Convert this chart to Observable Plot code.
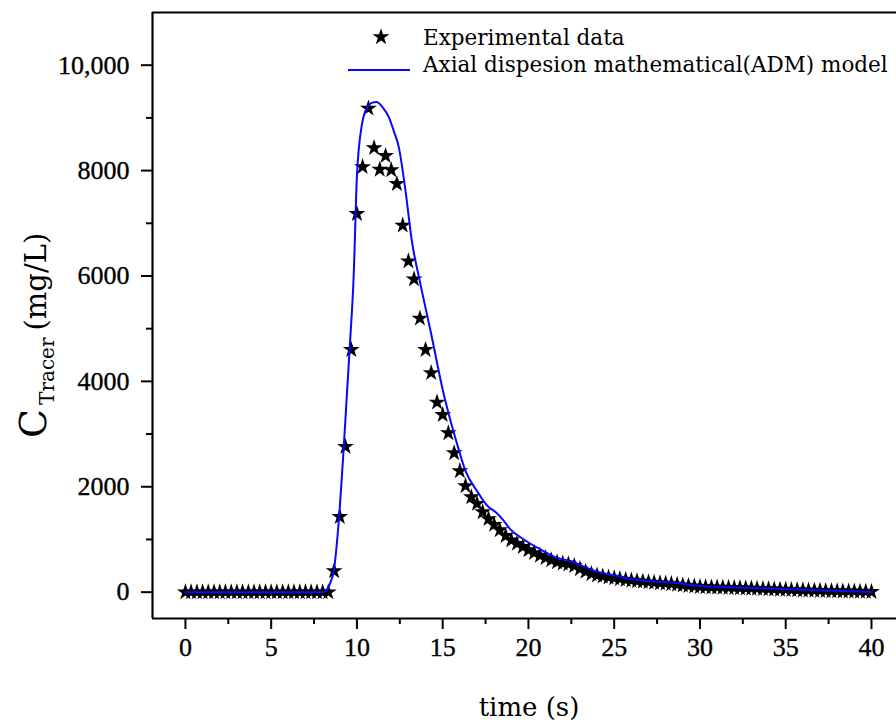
<!DOCTYPE html>
<html>
<head>
<meta charset="utf-8">
<script src="https://cdn.jsdelivr.net/npm/d3@7"></script>
<script src="https://cdn.jsdelivr.net/npm/@observablehq/plot@0.6"></script>
<style>
  html, body { margin: 0; padding: 0; background: #ffffff; overflow: hidden; }
</style>
</head>
<body>
<div id="chart"></div>
<script>
// ---- Experimental data (time in s, concentration in mg/L) ----
const expTime = [
  0, 0.33, 0.67, 1, 1.33, 1.67, 2, 2.33, 2.67, 3, 3.33, 3.67, 4, 4.33, 4.67, 5, 5.33, 5.67, 6, 6.33, 6.67,
  7, 7.33, 7.67, 8, 8.33, 8.67, 9, 9.33, 9.67, 10, 10.33, 10.67, 11, 11.33, 11.67, 12, 12.33, 12.67,
  13, 13.33, 13.67, 14, 14.33, 14.67, 15, 15.33, 15.67, 16, 16.33, 16.67, 17, 17.33, 17.67, 18, 18.33, 18.67,
  19, 19.33, 19.67, 20, 20.33, 20.67, 21, 21.33, 21.67, 22, 22.33, 22.67, 23, 23.33, 23.67, 24, 24.33, 24.67,
  25, 25.33, 25.67, 26, 26.33, 26.67, 27, 27.33, 27.67, 28, 28.33, 28.67, 29, 29.33, 29.67, 30, 30.33, 30.67,
  31, 31.33, 31.67, 32, 32.33, 32.67, 33, 33.33, 33.67, 34, 34.33, 34.67, 35, 35.33, 35.67, 36, 36.33, 36.67,
  37, 37.33, 37.67, 38, 38.33, 38.67, 39, 39.33, 39.67, 40
];
const expConc = [
  0, 0, 0, 0, 0, 0, 0, 0, 0, 0, 0, 0, 0, 0, 0, 0, 0, 0, 0, 0, 0, 0, 0, 0, 0, 0,
  400, 1430, 2760, 4600, 7180, 8070, 9180, 8430, 8020, 8280, 8010, 7750, 6960,
  6280, 5940, 5195, 4600, 4160, 3600, 3365, 3020, 2640, 2300, 2015, 1805, 1680, 1520, 1390,
  1280, 1180, 1070, 985, 920, 860, 800, 745, 695, 650, 610, 570, 545, 530, 500,
  440, 390, 345, 320, 300, 280, 265, 250, 235, 222, 210, 200, 190, 180, 172,
  165, 155, 145, 130, 118, 110, 102, 97, 93, 90, 87, 84, 80, 77, 73, 70, 66, 62, 58, 54, 50, 46,
  42, 39, 36, 33, 30, 27, 24, 21, 19, 17, 15, 13, 11, 9, 7
];

// ---- Axial dispersion model (ADM) curve ----
const modelTime = [
  0, 8.0, 8.26, 8.45, 8.65, 8.94, 9.23, 9.58, 9.81, 10.0, 10.3, 10.6, 10.9, 11.14, 11.5, 11.86,
  12.15, 12.44, 12.83, 13.2, 13.7, 14.29, 15.06, 15.5, 15.94, 16.33, 17.0, 17.6, 18.08, 18.47,
  18.95, 19.73, 20.7, 21.67, 22.45, 23.4, 24.2, 25.2, 26.1, 27, 28.5, 30, 32, 34.9, 37, 40
];
const modelConc = [
  0, 0, 50, 180, 400, 1350, 2745, 4645, 6000, 7900, 8890, 9200, 9290, 9300, 9200, 9015,
  8750, 8445, 7620, 6670, 5850, 4960, 3760, 3200, 2700, 2300, 1920, 1640, 1520, 1390,
  1190, 1000, 810, 650, 590, 460, 370, 305, 245, 210, 180, 115, 90, 60, 35, 0
];

// ---- Axes ----
const xTicks = [0, 5, 10, 15, 20, 25, 30, 35, 40];
const xTickLabels = ["0", "5", "10", "15", "20", "25", "30", "35", "40"];
const xMinorTicks = [2.5, 7.5, 12.5, 17.5, 22.5, 27.5, 32.5, 37.5];
const yTicks = [0, 2000, 4000, 6000, 8000, 10000];
const yTickLabels = ["0", "2000", "4000", "6000", "8000", "10,000"];
const yMinorTicks = [1000, 3000, 5000, 7000, 9000];
const xDomain = [-1.92, 41.46];
const yDomain = [-500, 11000];

const xLabel = "time (s)";
const yLabelMain = "C";
const yLabelSub = "Tracer";
const yLabelUnit = "(mg/L)";
const legendLabels = ["Experimental data", "Axial dispesion mathematical(ADM) model"];

const expData = expTime.map((t, i) => ({t, c: expConc[i]}));
const modelData = modelTime.map((t, i) => ({t, c: modelConc[i]}));

const tickFont = "Liberation Serif, serif";
const textFont = "DejaVu Serif, serif";
const blue = "#0808ff";
const starR = 5.3;

const chart = Plot.plot({
  width: 896,
  height: 723,
  marginLeft: 152,
  marginRight: 0,
  marginTop: 12,
  marginBottom: 105,
  style: {background: "#ffffff", color: "#000", overflow: "visible"},
  x: {domain: xDomain},
  y: {domain: yDomain},
  marks: [
    Plot.axisX({ticks: xTicks, tickFormat: d => xTickLabels[xTicks.indexOf(d)], tickSize: 11, tickPadding: 8,
      strokeWidth: 2, stroke: "#000", fill: "#000", label: null}),
    Plot.axisX({ticks: xMinorTicks, tickFormat: () => "", tickSize: 6, strokeWidth: 2, stroke: "#000", label: null}),
    Plot.axisY({ticks: yTicks, tickFormat: d => yTickLabels[yTicks.indexOf(d)], tickSize: 11, tickPadding: 12,
      strokeWidth: 2, stroke: "#000", fill: "#000", label: null}),
    Plot.axisY({ticks: yMinorTicks, tickFormat: () => "", tickSize: 6, strokeWidth: 2, stroke: "#000", label: null}),
    Plot.ruleX([xDomain[0]], {stroke: "#000", strokeWidth: 2.2}),
    Plot.ruleY([yDomain[0], yDomain[1]], {stroke: "#000", strokeWidth: 2.2}),
    Plot.dot(expData, {x: "t", y: "c", symbol: "star", r: starR, fill: "#000", stroke: "none"}),
    Plot.line(modelData, {x: "t", y: "c", stroke: blue, strokeWidth: 2, curve: "monotone-x"})
  ]
});

document.getElementById("chart").appendChild(chart);

const svg = d3.select(chart);
// tick labels drawn by Plot's axes: serif font, slightly heavier
svg.selectAll("text")
  .style("font-family", tickFont)
  .style("font-size", "26px")
  .attr("stroke", "#000")
  .attr("stroke-width", 0.35);

// ---- Axis titles and legend (added into the same SVG) ----
svg.append("text")
  .attr("x", 529).attr("y", 716)
  .style("text-anchor", "middle")
  .style("font-family", textFont).style("font-size", "26px").attr("fill", "#000")
  .text(xLabel);

const yl = svg.append("text")
  .attr("transform", "translate(46,438) rotate(-90)")
  .style("text-anchor", "start")
  .style("font-family", textFont).attr("fill", "#000");
yl.append("tspan").style("font-size", "38px").text(yLabelMain);
yl.append("tspan").style("font-size", "20px").attr("dx", 4).attr("dy", 8).text(yLabelSub);
yl.append("tspan").style("font-size", "29px").attr("dx", 7).attr("dy", -8).text(yLabelUnit);

const lg = svg.append("g").style("font-family", textFont).style("font-size", "21.5px")
  .attr("fill", "#000").style("text-anchor", "start");
lg.append("path")
  .attr("transform", "translate(381,37)")
  .attr("d", d3.symbol(d3.symbolStar, Math.PI * starR * starR)())
  .attr("fill", "#000");
lg.append("text").attr("x", 423).attr("y", 45).text(legendLabels[0]);
lg.append("line").attr("x1", 348).attr("x2", 410).attr("y1", 70).attr("y2", 70)
  .attr("stroke", blue).attr("stroke-width", 2);
lg.append("text").attr("x", 423).attr("y", 72).text(legendLabels[1]);
</script>
</body>
</html>
